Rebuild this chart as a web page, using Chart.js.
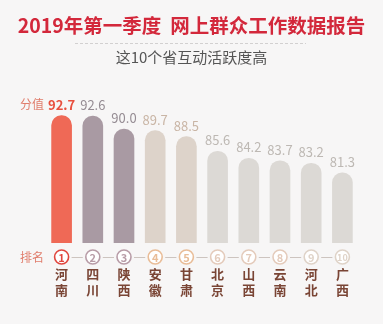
<!DOCTYPE html>
<html>
<head>
<meta charset="utf-8">
<script src="https://cdn.jsdelivr.net/npm/chart.js@4"></script>
<style>
  html, body { margin: 0; padding: 0; background: #f7f6f6; }
  #wrap { width: 383px; height: 324px; position: relative; }
</style>
</head>
<body>
<div id="wrap"><canvas id="chart"></canvas></div>
<script>
// Data
const provinces = ['河南', '四川', '陕西', '安徽', '甘肃', '北京', '山西', '云南', '河北', '广西'];
const scores = [92.7, 92.6, 90.0, 89.7, 88.5, 85.6, 84.2, 83.7, 83.2, 81.3];
const ranks = ['1', '2', '3', '4', '5', '6', '7', '8', '9', '10'];
const titleText = '2019年第一季度  网上群众工作数据报告';
const subtitleText = '这10个省互动活跃度高';

const FONT = '"Noto Sans CJK SC", "Noto Sans", sans-serif';

// Colours by rank group
const barColors = ['#ef6956', '#a99aa3', '#a99aa3', '#ddd3ca', '#ddd3ca', '#dcd9d5', '#dcd9d5', '#dcd9d5', '#dcd9d5', '#dcd9d5'];
const valueColors = ['#e8503f', '#958c93', '#958c93', '#c9b5a5', '#c9b5a5', '#bdb8b3', '#bdb8b3', '#bdb8b3', '#bdb8b3', '#bdb8b3'];
const circleColors = ['#e0463e', '#b89ca7', '#b89ca7', '#e9bd98', '#e9bd98', '#e4cbbb', '#e4cbbb', '#e4cbbb', '#dfd3c8', '#dfd3c8'];

/**
 * Small concave flares at the foot of the bars
 */
const flarePlugin = {
    id: 'flare',
    afterDatasetsDraw(chart) {
        const ctx = chart.ctx;
        const meta = chart.getDatasetMeta(0);
        const r = 5;
        ctx.save();
        meta.data.forEach((bar, i) => {
            const half = bar.width / 2;
            const bottom = bar.base;
            ctx.fillStyle = barColors[i];
            // left flare (not on the first bar)
            if (i > 0) {
                const xl = bar.x - half;
                ctx.beginPath();
                ctx.moveTo(xl - r, bottom);
                ctx.quadraticCurveTo(xl, bottom, xl, bottom - r);
                ctx.lineTo(xl + 0.5, bottom);
                ctx.closePath();
                ctx.fill();
            }
            // right flare (not on the last bar)
            if (i < meta.data.length - 1) {
                const xr = bar.x + half;
                ctx.beginPath();
                ctx.moveTo(xr + r, bottom);
                ctx.quadraticCurveTo(xr, bottom, xr, bottom - r);
                ctx.lineTo(xr - 0.5, bottom);
                ctx.closePath();
                ctx.fill();
            }
        });
        ctx.restore();
    }
};

/**
 * Draws the title block, value labels, side captions and rank circles
 */
const decorPlugin = {
    id: 'decor',
    afterDatasetsDraw(chart) {
        const ctx = chart.ctx;
        const xScale = chart.scales.x;
        const meta = chart.getDatasetMeta(0);
        const cx = chart.width / 2;

        ctx.save();
        ctx.textAlign = 'center';
        ctx.textBaseline = 'middle';

        // Title
        ctx.fillStyle = '#d3283b';
        ctx.font = `bold 19.5px ${FONT}`;
        ctx.fillText(titleText, cx, 26);

        // Dashed separator
        ctx.strokeStyle = '#d2d0d0';
        ctx.lineWidth = 1;
        ctx.setLineDash([3, 2]);
        ctx.beginPath();
        ctx.moveTo(75, 43.5);
        ctx.lineTo(306, 43.5);
        ctx.stroke();
        ctx.setLineDash([]);

        // Subtitle
        ctx.fillStyle = '#555555';
        ctx.font = `15px ${FONT}`;
        ctx.fillText(subtitleText, cx, 57);

        // Value labels above bars
        meta.data.forEach((bar, i) => {
            ctx.fillStyle = valueColors[i];
            ctx.font = (i === 0 ? 'bold ' : '') + `13px ${FONT}`;
            ctx.fillText(scores[i].toFixed(1), bar.x, bar.y - 11);
        });

        // Side captions
        ctx.fillStyle = '#e07d6c';
        ctx.font = `12px ${FONT}`;
        ctx.fillText('分值', 32, meta.data[0].y - 11);
        const rankY = 257;
        ctx.fillText('排名', 32, rankY);

        // Rank connectors
        ctx.strokeStyle = '#cdc4bf';
        ctx.lineWidth = 1;
        for (let i = 0; i < ranks.length - 1; i++) {
            const x1 = xScale.getPixelForValue(i) + 10;
            const x2 = xScale.getPixelForValue(i + 1) - 10;
            ctx.beginPath();
            ctx.moveTo(x1, rankY + 0.5);
            ctx.lineTo(x2, rankY + 0.5);
            ctx.stroke();
        }

        // Rank circles
        ranks.forEach((r, i) => {
            const x = xScale.getPixelForValue(i);
            ctx.beginPath();
            ctx.arc(x, rankY, 7, 0, Math.PI * 2);
            ctx.fillStyle = '#ffffff';
            ctx.fill();
            ctx.strokeStyle = circleColors[i];
            ctx.lineWidth = 1.6;
            ctx.stroke();
            ctx.fillStyle = circleColors[i];
            ctx.font = `bold ${r.length > 1 ? 9 : 11}px ${FONT}`;
            ctx.fillText(r, x, rankY + 0.5);
        });

        ctx.restore();
    }
};

const ctx = document.getElementById('chart').getContext('2d');
new Chart(ctx, {
    type: 'bar',
    data: {
        labels: provinces.map(p => p.split('')),
        datasets: [{
            data: scores,
            backgroundColor: barColors,
            borderSkipped: false,
            borderRadius: (c) => ({
                topLeft: 10,
                topRight: 10,
                bottomLeft: c.dataIndex === 0 ? 6 : 0,
                bottomRight: c.dataIndex === scores.length - 1 ? 6 : 0
            }),
            barThickness: 20
        }]
    },
    options: {
        responsive: true,
        maintainAspectRatio: false,
        animation: false,
        layout: {
            padding: { top: 79, left: 46, right: 25, bottom: 0 }
        },
        scales: {
            x: {
                grid: { display: false },
                border: { display: false },
                afterFit(scale) {
                    scale.height = 81;
                },
                ticks: {
                    padding: 15,
                    color: '#7a4535',
                    font: { family: FONT, size: 13, weight: 'bold', lineHeight: 1.25 }
                }
            },
            y: {
                display: false,
                min: 67.3,
                max: 100
            }
        },
        plugins: {
            legend: { display: false },
            tooltip: { enabled: false }
        }
    },
    plugins: [flarePlugin, decorPlugin]
});
</script>
</body>
</html>
